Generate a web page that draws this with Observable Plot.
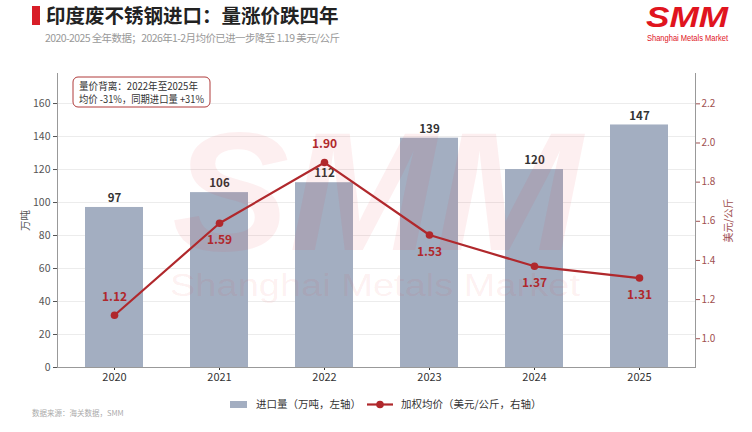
<!DOCTYPE html>
<html><head><meta charset="utf-8">
<script src="https://cdn.jsdelivr.net/npm/d3@7"></script>
<script src="https://cdn.jsdelivr.net/npm/@observablehq/plot@0.6"></script>
<style>
body{margin:0;background:#fff;font-family:"Noto Sans CJK SC","Noto Sans",sans-serif;}
#wrap{position:relative;width:752px;height:432px;overflow:hidden;background:#fff;}
.layer{position:absolute;left:0;top:0;}
svg.deco{position:absolute;left:0;top:0;pointer-events:none;}
</style></head><body><div id="wrap"></div>
<script>
const years = ["2020","2021","2022","2023","2024","2025"];
const volume = [97, 106, 112, 139, 120, 147];
const price = [1.12, 1.59, 1.90, 1.53, 1.37, 1.31];
const volTicks = [0, 20, 40, 60, 80, 100, 120, 140, 160];
const priceTicks = [1.0, 1.2, 1.4, 1.6, 1.8, 2.0, 2.2];
const title = "印度废不锈钢进口：量涨价跌四年";
const subtitle = "2020-2025 全年数据；2026年1-2月均价已进一步降至 1.19 美元/公斤";
const noteLines = ["量价背离：2022年至2025年", "均价 -31%，同期进口量 +31%"];
const legendBar = "进口量（万吨，左轴）";
const legendLine = "加权均价（美元/公斤，右轴）";
const source = "数据来源：海关数据，SMM";

const data = years.map((y, i) => ({year: y, volume: volume[i], price: price[i], i}));
const maxPrice = d3.max(price);
const isAbove = d => d.i === 0 || d.price === maxPrice;

const FONT = '"Noto Sans CJK SC","Noto Sans",sans-serif';
const RED = "#b0282c";
const band = {type: "band", domain: years, paddingInner: 0.45, paddingOuter: 0.26};
const common = {
  width: 752, height: 330,
  marginTop: 13, marginBottom: 23, marginLeft: 57, marginRight: 57
};

const p1 = Plot.plot({
  ...common,
  x: band,
  style: {fontFamily: FONT, fontSize: "10.5px", background: "transparent", color: "#555"},
  y: {domain: [0, 178.2]},
  marks: [
    Plot.ruleY(volTicks.slice(1), {stroke: "#ececec"}),
    Plot.barY(data, {x: "year", y: "volume", fill: "#a3aec1"}),
    Plot.text(data, {x: "year", y: "volume", text: d => String(d.volume), dy: -9, fill: "#333", fontSize: 11.5, fontWeight: 600}),
    Plot.axisY({ticks: volTicks, tickSize: 4, tickPadding: 3, label: "万吨", labelAnchor: "center", labelArrow: "none", labelOffset: 36, color: "#555"}),
    Plot.axisX({tickSize: 3, label: null, tickPadding: 3, color: "#333", fontSize: 11}),
    Plot.ruleY([0], {stroke: "#999"}),
    Plot.frame({anchor: "left", stroke: "#999"})
  ]
});

const p2 = Plot.plot({
  ...common,
  x: {...band, axis: null},
  style: {fontFamily: FONT, fontSize: "10px", background: "transparent", color: "#a05050"},
  y: {domain: [0.853, 2.355]},
  marks: [
    Plot.line(data, {x: "year", y: "price", stroke: RED, strokeWidth: 2.2}),
    Plot.dot(data, {x: "year", y: "price", r: 3.8, fill: RED}),
    Plot.text(data.filter(isAbove), {x: "year", y: "price", text: d => d.price.toFixed(2), dy: -18, fill: RED, fontSize: 12, fontWeight: 700}),
    Plot.text(data.filter(d => !isAbove(d)), {x: "year", y: "price", text: d => d.price.toFixed(2), dy: 17, fill: RED, fontSize: 12, fontWeight: 700}),
    Plot.axisY({anchor: "right", ticks: priceTicks, tickFormat: ".1f", tickSize: 4, tickPadding: 2, label: "美元/公斤", labelAnchor: "center", labelArrow: "none", labelOffset: 36, color: "#a05050", fontSize: 10}),
    Plot.frame({anchor: "right", stroke: "#999"})
  ]
});

const wrap = document.getElementById("wrap");
p1.classList.add("layer"); p1.style.top = "60px";
p2.classList.add("layer"); p2.style.top = "60px";

const NS = "http://www.w3.org/2000/svg";
function svgEl(tag, attrs, text) {
  const e = document.createElementNS(NS, tag);
  for (const k in attrs) e.setAttribute(k, attrs[k]);
  if (text != null) e.textContent = text;
  return e;
}
// watermark layer
const wm = svgEl("svg", {width: 752, height: 432, class: "deco"});
wm.appendChild(svgEl("text", {x: 172, y: 250, "font-size": 168, "font-style": "italic", "font-weight": 900, "font-family": "Liberation Sans, Arial", fill: "#e8323c", "fill-opacity": 0.08, textLength: 410, lengthAdjust: "spacingAndGlyphs"}, "SMM"));
wm.appendChild(svgEl("text", {x: 170, y: 296, "font-size": 31, "font-family": "Liberation Sans, Arial", fill: "#e8323c", "fill-opacity": 0.08, textLength: 410, lengthAdjust: "spacingAndGlyphs"}, "Shanghai Metals Market"));

// decorations (title, logo, note, legend, source)
const deco = svgEl("svg", {width: 752, height: 432, class: "deco"});
deco.style.fontFamily = FONT;
deco.appendChild(svgEl("rect", {x: 32, y: 6, width: 8, height: 19, fill: "#d81e28"}));
deco.appendChild(svgEl("text", {x: 46, y: 23, "font-size": 19.5, "font-weight": 700, fill: "#222"}, title));
deco.appendChild(svgEl("text", {x: 45, y: 42, "font-size": 10.5, fill: "#999", textLength: 295, lengthAdjust: "spacing"}, subtitle));
deco.appendChild(svgEl("text", {x: 646, y: 27, "font-size": 30, "font-style": "italic", "font-weight": 900, "font-family": "Liberation Sans, Arial", fill: "#e0141e", textLength: 82, lengthAdjust: "spacingAndGlyphs"}, "SMM"));
deco.appendChild(svgEl("text", {x: 647, y: 41, "font-size": 9, "font-family": "Liberation Sans, Arial", fill: "#e0141e", textLength: 81, lengthAdjust: "spacingAndGlyphs"}, "Shanghai Metals Market"));
// note box
deco.appendChild(svgEl("rect", {x: 73, y: 77, width: 137, height: 30, rx: 5, fill: "#fff", stroke: "#b03a3a", "stroke-width": 1}));
deco.appendChild(svgEl("text", {x: 79, y: 90, "font-size": 10.5, fill: "#333", textLength: 119, lengthAdjust: "spacingAndGlyphs"}, noteLines[0]));
deco.appendChild(svgEl("text", {x: 79, y: 103, "font-size": 10.5, fill: "#333", textLength: 125, lengthAdjust: "spacingAndGlyphs"}, noteLines[1]));
// legend
deco.appendChild(svgEl("rect", {x: 230, y: 401, width: 17, height: 7, fill: "#a3aec1"}));
deco.appendChild(svgEl("text", {x: 256, y: 408, "font-size": 10.5, fill: "#333"}, legendBar));
deco.appendChild(svgEl("line", {x1: 367, x2: 393, y1: 404.5, y2: 404.5, stroke: RED, "stroke-width": 2.2}));
deco.appendChild(svgEl("circle", {cx: 380, cy: 404.5, r: 3.8, fill: RED}));
deco.appendChild(svgEl("text", {x: 401, y: 408, "font-size": 10.5, fill: "#333"}, legendLine));
deco.appendChild(svgEl("text", {x: 32, y: 416, "font-size": 7.5, fill: "#aaa"}, source));

wrap.appendChild(p1);
wrap.appendChild(wm);
wrap.appendChild(p2);
wrap.appendChild(deco);
</script></body></html>
